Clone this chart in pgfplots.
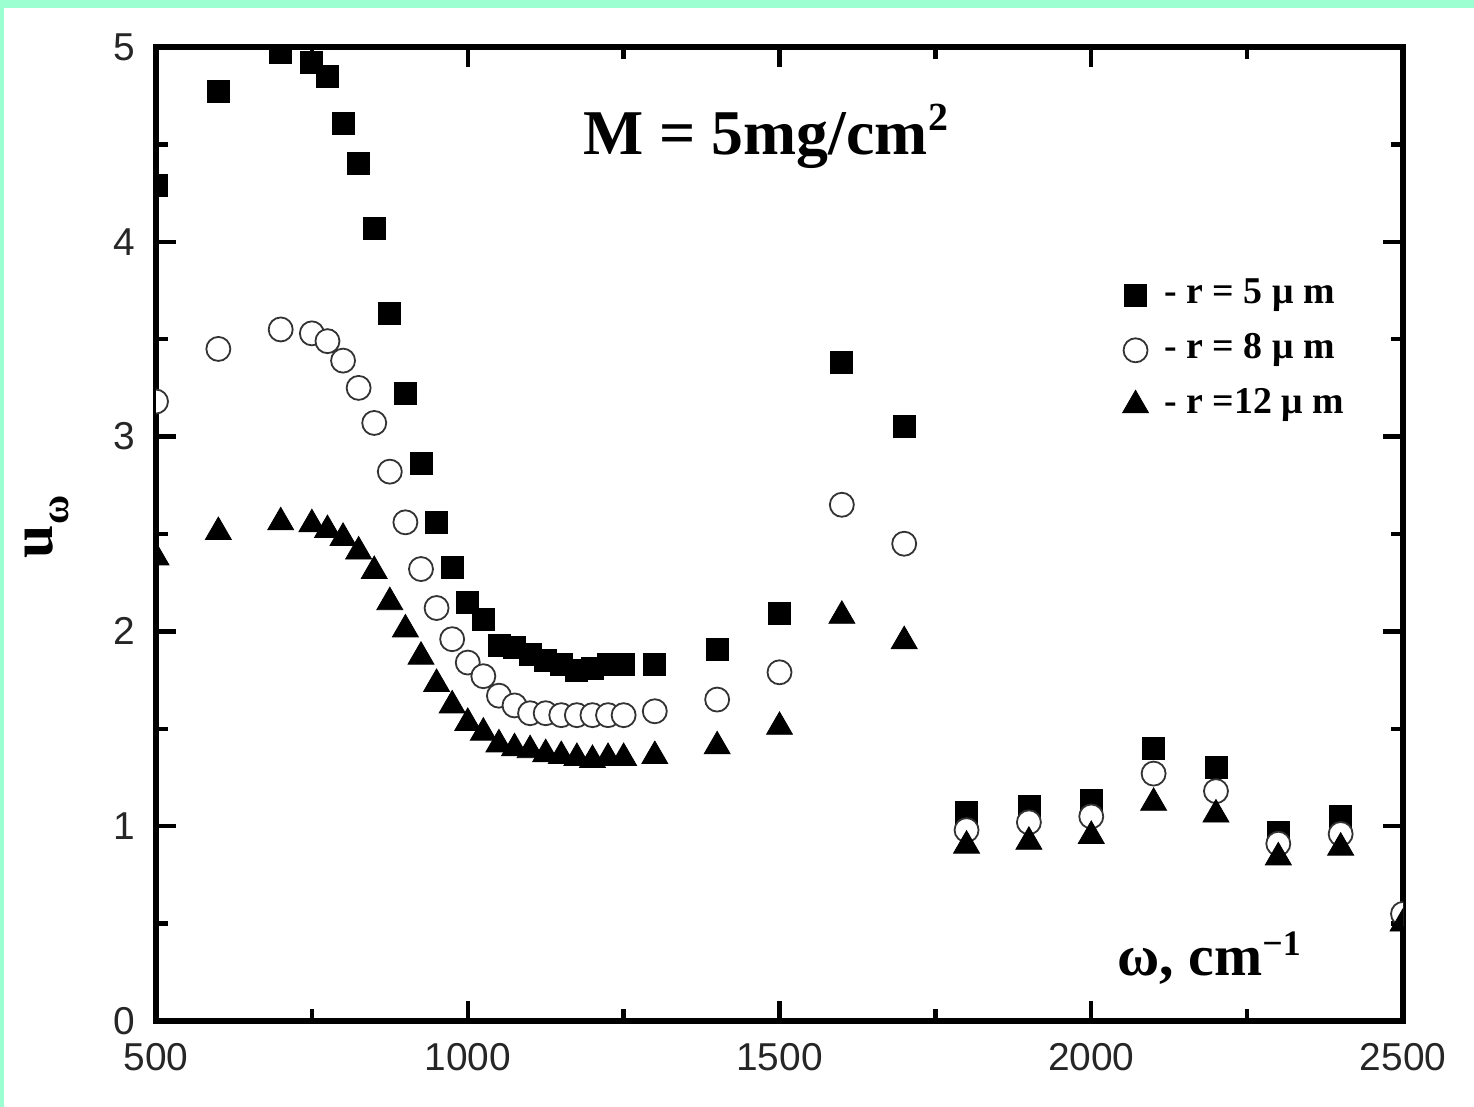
\documentclass[border=0pt]{standalone}
\usepackage{fontspec}
\setmainfont{Liberation Serif}
\setsansfont{Liberation Sans}
\usepackage{pgfplots}
\pgfplotsset{compat=1.18}
\definecolor{mint}{RGB}{155,255,210}

% u_omega for r = 5 um
\pgfplotstableread{
x y
500 4.29
600 4.77
700 4.97
750 4.92
775 4.85
800 4.61
825 4.40
850 4.07
875 3.63
900 3.22
925 2.86
950 2.56
975 2.33
1000 2.15
1025 2.06
1050 1.93
1075 1.92
1100 1.88
1125 1.85
1150 1.83
1175 1.80
1200 1.81
1225 1.83
1250 1.83
1300 1.83
1400 1.91
1500 2.09
1600 3.38
1700 3.05
1800 1.07
1900 1.10
2000 1.13
2100 1.40
2200 1.30
2300 0.97
2400 1.05
}\datafive

% u_omega for r = 8 um
\pgfplotstableread{
x y
500 3.18
600 3.45
700 3.55
750 3.53
775 3.49
800 3.39
825 3.25
850 3.07
875 2.82
900 2.56
925 2.32
950 2.12
975 1.96
1000 1.84
1025 1.77
1050 1.67
1075 1.62
1100 1.58
1125 1.58
1150 1.57
1175 1.57
1200 1.57
1225 1.57
1250 1.57
1300 1.59
1400 1.65
1500 1.79
1600 2.65
1700 2.45
1800 0.98
1900 1.02
2000 1.05
2100 1.27
2200 1.18
2300 0.91
2400 0.96
2500 0.55
}\dataeight

% u_omega for r = 12 um
\pgfplotstableread{
x y
500 2.38
600 2.51
700 2.56
750 2.55
775 2.52
800 2.48
825 2.41
850 2.31
875 2.15
900 2.01
925 1.87
950 1.73
975 1.62
1000 1.53
1025 1.48
1050 1.42
1075 1.40
1100 1.39
1125 1.37
1150 1.36
1175 1.35
1200 1.34
1225 1.35
1250 1.35
1300 1.36
1400 1.41
1500 1.51
1600 2.08
1700 1.95
1800 0.90
1900 0.92
2000 0.95
2100 1.12
2200 1.06
2300 0.84
2400 0.89
2500 0.50
}\datatwelve

\begin{document}
\begin{tikzpicture}
% page background with the coloured frame
\fill[mint] (0,0) rectangle (737bp,553.5bp);
\fill[white] (2bp,0) rectangle (737bp,549.5bp);

\begin{axis}[
  at={(78bp,43bp)}, anchor=south west,
  scale only axis, width=623.5bp, height=487bp,
  xmin=500, xmax=2500, ymin=0, ymax=5,
  xtick={500,1000,...,2500}, ytick={0,1,...,5},
  minor x tick num=1, minor y tick num=1,
  tick align=inside,
  major tick length=10bp, minor tick length=6bp,
  every tick/.style={black, line width=2.2bp},
  axis line style={line width=3bp},
  /pgf/number format/1000 sep={},
  /pgf/number format/assume math mode=true,
  tick label style={font=\fontsize{19.5}{20}\selectfont\sffamily, text=black!85},
  xticklabel style={yshift=-7.5bp},
  yticklabel style={xshift=-7bp},
  clip marker paths=true,
  legend style={draw=none, fill=none, at={(axis cs:2040,3.83)}, anchor=north west,
    font=\fontsize{19}{19}\selectfont\bfseries,
    nodes={inner sep=0pt, text height=12bp, text depth=4bp},
    row sep=11.5bp, column sep=8bp},
  legend cell align=left,
  legend image code/.code={\draw[mark repeat=2,mark phase=2,#1] plot coordinates {(0bp,0bp)(6bp,0bp)(12bp,0bp)};},
]
\addplot[only marks, mark=square*, mark size=5.5bp, draw=black, fill=black] table[x=x,y=y] {\datafive};
\addlegendentry{- r = 5 μ m}
\addplot[only marks, mark=*, mark size=6bp, mark options={draw=black!80, fill=white, line width=0.9bp}] table[x=x,y=y] {\dataeight};
\addlegendentry{- r = 8 μ m}
\addplot[only marks, mark=triangle*, mark size=7.5bp, draw=black, fill=black] table[x=x,y=y] {\datatwelve};
\addlegendentry{- r =12 μ m}

\node[anchor=base, font=\fontsize{32}{32}\selectfont\bfseries] at (axis cs:1478,4.45)
  {M = 5mg/cm\raisebox{12bp}{\fontsize{20}{20}\selectfont 2}};
\node[anchor=base, font=\fontsize{29}{29}\selectfont\bfseries] at (axis cs:2189,0.236)
  {ω, cm\raisebox{10bp}{\fontsize{18}{18}\selectfont −1}};
\end{axis}

% y axis label
\node[rotate=90, anchor=base, font=\fontsize{30}{30}\selectfont\bfseries] at (26bp,290bp)
  {u\raisebox{-8bp}{\fontsize{20}{20}\selectfont ω}};

\pgfresetboundingbox
\path[use as bounding box] (0,0) rectangle (737bp,553.5bp);
\end{tikzpicture}
\end{document}
